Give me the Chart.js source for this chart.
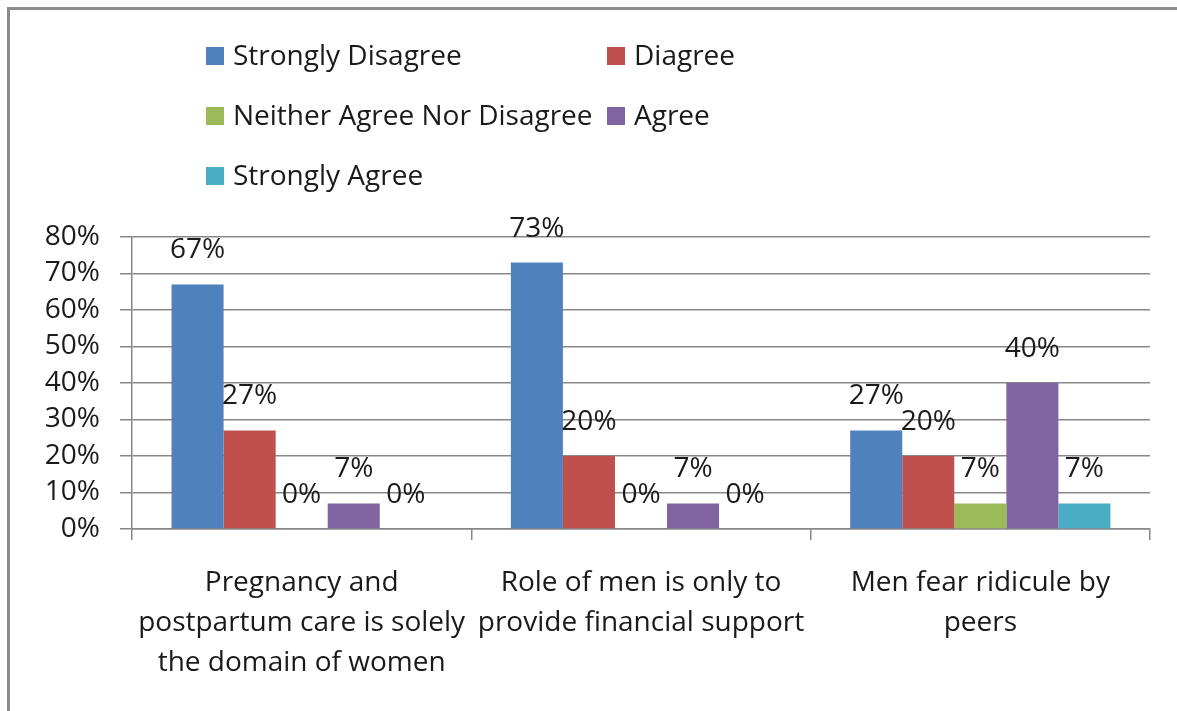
<!DOCTYPE html>
<html lang="en">
<head>
    <meta charset="UTF-8">
    <title>Men's role in pregnancy and postpartum care</title>
    <script src="https://cdn.jsdelivr.net/npm/chart.js"></script>
    <style>
        body {
            margin: 0;
            background: #fff;
            overflow: hidden;
        }
        #frame {
            position: absolute;
            left: 7px;
            top: 7px;
            width: 1300px;
            height: 800px;
            border-left: 3px solid #8c8c8c;
            border-top: 3px solid #8c8c8c;
        }
        canvas {
            position: absolute;
            left: 0;
            top: 0;
        }
    </style>
</head>
<body>
    <div id="frame"></div>
    <canvas id="attitudeChart" width="1177" height="711"></canvas>

    <script>
        // Survey statements (x axis categories, split into lines)
        const categories = [
            ['Pregnancy and', 'postpartum care is solely', 'the domain of women'],
            ['Role of men is only to', 'provide financial support'],
            ['Men fear ridicule by', 'peers']
        ];

        const seriesNames = ['Strongly Disagree', 'Diagree', 'Neither Agree Nor Disagree', 'Agree', 'Strongly Agree'];
        const seriesColors = ['#4F81BD', '#C0504D', '#9BBB59', '#8064A2', '#4BACC6'];

        // Percent of respondents per answer
        const stronglyDisagree = [67, 73, 27];
        const disagree = [27, 20, 20];
        const neither = [0, 0, 7];
        const agree = [7, 7, 40];
        const stronglyAgree = [0, 0, 7];

        const yMax = 80;
        const yStep = 10;

        const FONT = '"Open Sans", Lato, sans-serif';
        const GRID = '#878787';
        const TEXT = '#1a1a1a';

        // Values printed above each bar
        const valueLabels = {
            id: 'valueLabels',
            afterDatasetsDraw(chart) {
                const ctx = chart.ctx;
                ctx.save();
                ctx.font = '28px ' + FONT;
                ctx.fillStyle = TEXT;
                ctx.textAlign = 'center';
                ctx.textBaseline = 'middle';
                chart.data.datasets.forEach((ds, i) => {
                    chart.getDatasetMeta(i).data.forEach((bar, j) => {
                        ctx.fillText(ds.data[j] + '%', bar.x, bar.y - 34);
                    });
                });
                ctx.restore();
            }
        };

        // Two-column legend in the top left corner
        const gridLegend = {
            id: 'gridLegend',
            afterDraw(chart) {
                const ctx = chart.ctx;
                const colX = [206, 607];
                const rowY = [56, 116, 176];
                ctx.save();
                ctx.font = '28px ' + FONT;
                ctx.textBaseline = 'middle';
                chart.data.datasets.forEach((ds, i) => {
                    const x = colX[i % 2];
                    const y = rowY[Math.floor(i / 2)];
                    ctx.fillStyle = ds.backgroundColor;
                    ctx.fillRect(x, y - 9, 18, 18);
                    ctx.fillStyle = TEXT;
                    ctx.fillText(ds.label, x + 27, y + 1);
                });
                ctx.restore();
            }
        };

        const seriesData = [stronglyDisagree, disagree, neither, agree, stronglyAgree];

        const ctx = document.getElementById('attitudeChart').getContext('2d');
        new Chart(ctx, {
            type: 'bar',
            data: {
                labels: categories,
                datasets: seriesNames.map((name, i) => ({
                    label: name,
                    data: seriesData[i],
                    backgroundColor: seriesColors[i],
                    borderWidth: 0,
                    categoryPercentage: 0.767,
                    barPercentage: 1
                }))
            },
            options: {
                responsive: false,
                animation: false,
                layout: {
                    padding: { top: 237, right: 27, left: 0, bottom: 0 }
                },
                plugins: {
                    legend: { display: false },
                    tooltip: { enabled: false }
                },
                scales: {
                    x: {
                        grid: {
                            offset: true,
                            drawOnChartArea: false,
                            color: GRID,
                            tickLength: 11,
                            lineWidth: 1.5
                        },
                        border: { color: GRID, width: 1.5 },
                        ticks: {
                            color: TEXT,
                            font: { family: FONT, size: 28, lineHeight: 40 / 28 },
                            padding: 23,
                            maxRotation: 0,
                            autoSkip: false
                        },
                        afterFit(scale) { scale.height = 182; }
                    },
                    y: {
                        min: 0,
                        max: yMax,
                        grid: {
                            color: GRID,
                            tickLength: 12,
                            lineWidth: 1.5
                        },
                        border: { color: GRID, width: 1.5 },
                        ticks: {
                            stepSize: yStep,
                            autoSkip: false,
                            color: TEXT,
                            font: { family: FONT, size: 28 },
                            padding: 20,
                            callback: v => v + '%'
                        },
                        afterFit(scale) { scale.width = 132; }
                    }
                }
            },
            plugins: [valueLabels, gridLegend]
        });
    </script>
</body>
</html>
